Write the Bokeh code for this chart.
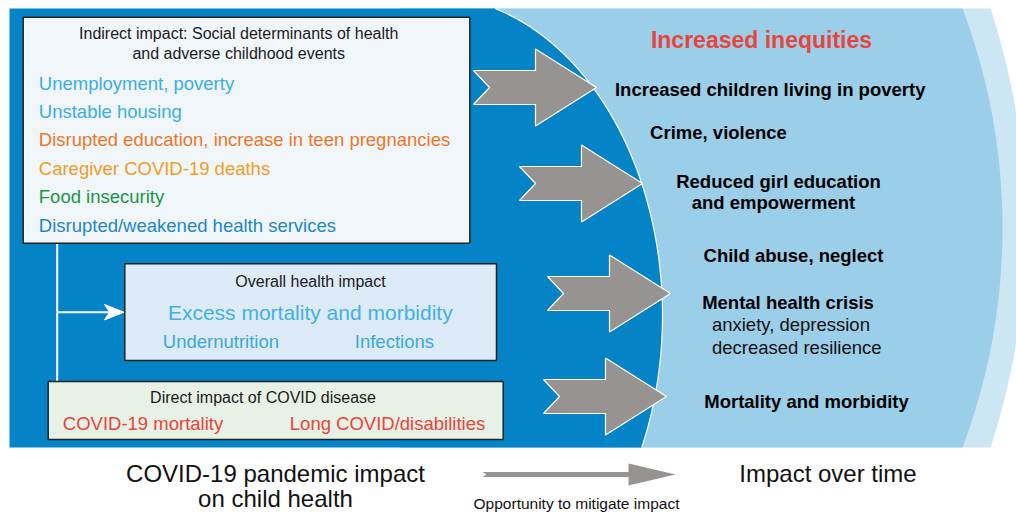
import numpy as np
from bokeh.plotting import figure
from bokeh.models import Range1d, ColumnDataSource
from bokeh.core.properties import value
from bokeh.embed import file_html
from bokeh.resources import INLINE

FONT = "Liberation Sans"

# ---------------- content ----------------
indirect_title = ["Indirect impact: Social determinants of health", "and adverse childhood events"]
indirect_items = ["Unemployment, poverty", "Unstable housing",
                  "Disrupted education, increase in teen pregnancies",
                  "Caregiver COVID-19 deaths", "Food insecurity",
                  "Disrupted/weakened health services"]
indirect_colors = ["#3aaee6", "#3aaee6", "#ee7623", "#f39c1f", "#1a9641", "#1c87c9"]

overall_title = "Overall health impact"
overall_main = "Excess mortality and morbidity"
overall_items = ["Undernutrition", "Infections"]

direct_title = "Direct impact of COVID disease"
direct_items = ["COVID-19 mortality", "Long COVID/disabilities"]

right_title = "Increased inequities"
right_bold = ["Increased children living in poverty", "Crime, violence",
              "Reduced girl education", "and empowerment",
              "Child abuse, neglect", "Mental health crisis",
              "Mortality and morbidity"]
right_regular = ["anxiety, depression", "decreased resilience"]

bottom_left = ["COVID-19 pandemic impact", "on child health"]
bottom_right = "Impact over time"
bottom_arrow_label = "Opportunity to mitigate impact"

# ---------------- layout (screen pixel coordinates) ----------------
W, H = 1016, 513
p = figure(width=W, height=H, x_range=Range1d(0, W), y_range=Range1d(H, 0),
           output_backend="svg", toolbar_location=None, min_border=0,
           background_fill_color="white", border_fill_color="white")
p.axis.visible = False
p.grid.visible = False
p.outline_line_color = None

top, bot, left = 8.0, 447.0, 9.0
ys = np.linspace(top, bot, 240)

# lightest outer band
light_x = 319 + np.sqrt(706.0**2 - (ys - 227.5)**2)
p.patch(np.concatenate([[400], light_x, [400]]), np.concatenate([[top], ys, [bot]]),
        fill_color="#cde6f3", line_color=None)
# mid blue
mid_x = 380 + np.sqrt(622.0**2 - (ys - 227.5)**2)
p.patch(np.concatenate([[400], mid_x, [400]]), np.concatenate([[top], ys, [bot]]),
        fill_color="#9bcee9", line_color=None)
# dark blue
dark_x = 429 + 233 * np.sqrt(np.clip(1 - ((ys - 315) / 320.0)**2, 0, None))
p.patch(np.concatenate([[left], dark_x, [left]]), np.concatenate([[top], ys, [bot]]),
        fill_color="#0583c7", line_color=None)
p.line(dark_x, ys, line_color="white", line_width=1.2)

# connector lines
p.line([56.7, 56.7], [242.7, 380.7], line_color="white", line_width=2)
p.line([56.7, 110], [311.7, 311.7], line_color="white", line_width=2)
p.patch([104, 123.5, 104, 109], [304, 311.7, 319.4, 311.7], fill_color="white", line_color="white")

# boxes
p.quad(left=[22.7], right=[469.3], top=[16.7], bottom=[242.7],
       fill_color="#f1f6fb", line_color="#222222", line_width=1.5)
p.quad(left=[124.3], right=[496], top=[263.3], bottom=[360],
       fill_color="#ddebf8", line_color="#222222", line_width=1.5)
p.quad(left=[47.7], right=[502.7], top=[381], bottom=[439],
       fill_color="#e8f1e6", line_color="#222222", line_width=1.5)

# gray notched arrows: tip x, center y
arrow_tip = [596, 642, 670, 666]
arrow_cy = [87, 183, 293, 396]
for tx, cy in zip(arrow_tip, arrow_cy):
    L, head, notch, hh, bh = 123, 61, 16, 38.5, 17
    xs_ = [tx - L, tx - head, tx - head, tx, tx - head, tx - head, tx - L, tx - L + notch]
    ys_ = [cy - bh, cy - bh, cy - hh, cy, cy + hh, cy + bh, cy + bh, cy]
    p.patch(xs_, ys_, fill_color="#979391", line_color="white", line_width=1.2)

# bottom arrow
p.patch([482, 628, 628, 675, 628, 628, 482, 486],
        [471.5, 471.5, 463, 474, 485, 476.5, 476.5, 474],
        fill_color="#979391", line_color=None)

DY = -7.5


def txt(x, y, t, size, color="black", align="left", style="normal"):
    src = ColumnDataSource(dict(x=list(x), y=[v + DY for v in y], t=list(t),
                                c=list(color) if isinstance(color, list) else [color] * len(t)))
    p.text(x="x", y="y", text="t", source=src, text_color="c",
           text_font=value(FONT), text_font_size=size, text_align=align,
           text_baseline="alphabetic", text_font_style=style)


# box 1
txt([238.2, 238.2], [40.7, 60], indirect_title, "16px", "#1a1a1a", "center")
txt([38.3] * 6, [90.7, 118.3, 146.7, 175, 203.3, 232.3], indirect_items, "18.5px", indirect_colors)
# box 2
txt([310], [288.3], [overall_title], "16px", "#1a1a1a", "center")
txt([309.8], [319], [overall_main], "21px", "#40b1e8", "center")
txt([162.3, 354.3], [348.3, 348.3], overall_items, "18.5px", "#38a8e0")
# box 3
txt([262.5], [404], [direct_title], "16px", "#1a1a1a", "center")
txt([62.3, 289.3], [430, 430], direct_items, "18.5px", "#ec4339")

# right side
txt([761], [46.7], [right_title], "23px", "#e8453c", "center", "bold")
txt([769.7, 718, 778, 773, 793, 787.5, 806],
    [96, 139, 188, 209.3, 262, 309.3, 408.3], right_bold, "18.5px", "#000000", "center", "bold")
txt([711.4, 711.4], [331.7, 354.3], right_regular, "18.5px", "#111111")

# bottom
txt([275, 275], [480, 505.5], bottom_left, "24px", "#111111", "center")
txt([827.5], [480], [bottom_right], "24px", "#111111", "center")
txt([576], [510], [bottom_arrow_label], "15.5px", "#111111", "center")

open("out.html", "w").write(file_html(p, INLINE))
